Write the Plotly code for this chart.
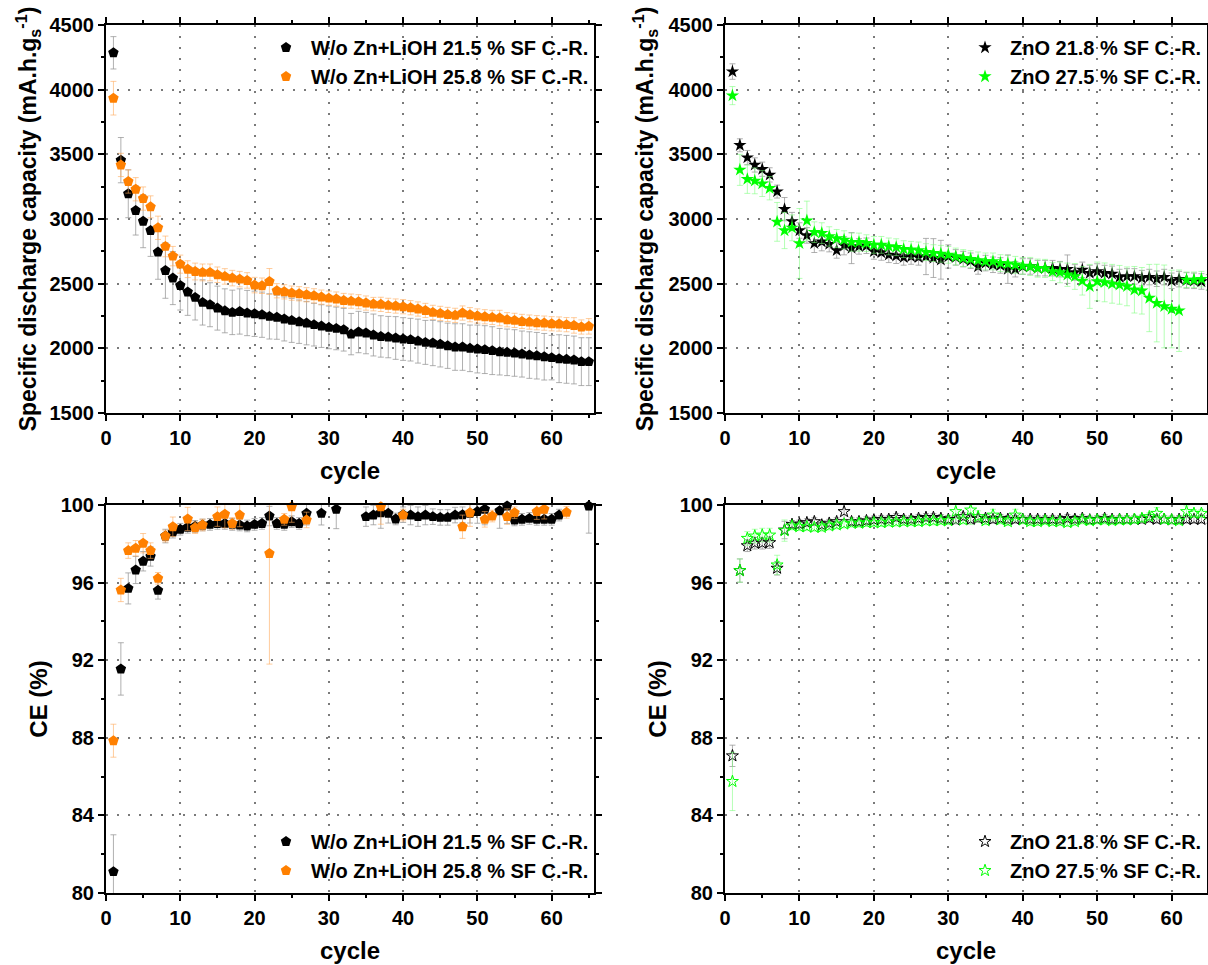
import plotly.graph_objects as go

# ---------------- data ----------------
cycles = list(range(1, 66))

# top-left: specific discharge capacity, W/o Zn+LiOH
cap_wo_215 = [4285, 3455, 3195, 3066, 2983, 2911, 2744, 2602, 2543, 2486,
              2435, 2394, 2355, 2337, 2311, 2290, 2278, 2285, 2273, 2267,
              2260, 2247, 2240, 2227, 2216, 2206, 2195, 2183, 2172, 2162,
              2154, 2144, 2110, 2126, 2118, 2103, 2092, 2087, 2080, 2072,
              2067, 2056, 2046, 2041, 2031, 2020, 2010, 2010, 2000, 1995,
              1990, 1982, 1974, 1969, 1964, 1956, 1948, 1943, 1935, 1928,
              1920, 1915, 1910, 1897, 1897]
cap_wo_215_err = [125, 175, 185, 190, 205, 200, 210, 215, 205, 190,
                  180, 175, 175, 170, 170, 170, 172, 175, 175, 175,
                  175, 175, 170, 170, 170, 168, 168, 165, 165, 165,
                  165, 165, 160, 160, 160, 162, 160, 160, 165, 165,
                  165, 170, 170, 175, 175, 175, 180, 180, 180, 185,
                  185, 185, 180, 180, 180, 178, 180, 180, 180, 172,
                  185, 185, 185, 185, 185]
cap_wo_258 = [3934, 3418, 3290, 3230, 3158, 3094, 2932, 2788, 2713, 2651,
              2612, 2594, 2587, 2587, 2569, 2556, 2543, 2535, 2525, 2489,
              2484, 2517, 2445, 2437, 2427, 2422, 2414, 2406, 2396, 2388,
              2381, 2370, 2365, 2360, 2350, 2342, 2340, 2332, 2327, 2322,
              2314, 2304, 2293, 2278, 2270, 2262, 2255, 2273, 2260, 2250,
              2244, 2239, 2234, 2221, 2216, 2208, 2203, 2198, 2195, 2190,
              2188, 2183, 2177, 2165, 2170]
cap_wo_258_err = [130, 90, 90, 90, 90, 85, 90, 80, 75, 70,
                  65, 65, 65, 65, 60, 60, 60, 60, 60, 60,
                  60, 100, 55, 55, 55, 55, 55, 55, 55, 55,
                  55, 55, 55, 55, 55, 52, 55, 55, 55, 55,
                  55, 55, 55, 55, 55, 55, 55, 55, 55, 55,
                  55, 55, 60, 55, 55, 55, 55, 55, 55, 55,
                  55, 55, 60, 55, 60]

# top-right: specific discharge capacity, ZnO
cap_zno_218 = [4140, 3570, 3475, 3418, 3385, 3341, 3212, 3076, 2981, 2911,
               2873, 2811, 2824, 2806, 2757, 2793, 2775, 2788, 2793, 2749,
               2741, 2723, 2716, 2703, 2710, 2703, 2710, 2698, 2685, 2710,
               2703, 2690, 2677, 2633, 2659, 2646, 2641, 2612, 2612, 2633,
               2633, 2620, 2620, 2620, 2612, 2612, 2587, 2607, 2582, 2594,
               2582, 2576, 2551, 2556, 2556, 2543, 2551, 2538, 2551, 2522,
               2535, 2525, 2522, 2517, 2510]
cap_zno_218_err = [60, 50, 55, 55, 55, 55, 50, 90, 70, 60,
                   60, 70, 70, 60, 60, 70, 120, 60, 60, 60,
                   60, 60, 60, 60, 60, 60, 140, 150, 150, 90,
                   60, 60, 60, 60, 60, 60, 60, 110, 60, 60,
                   60, 60, 60, 60, 60, 110, 60, 60, 60, 60,
                   60, 60, 60, 60, 60, 60, 60, 60, 60, 60,
                   60, 60, 60, 60, 60]
cap_zno_275 = [3954, 3380, 3308, 3295, 3274, 3238, 2978, 2911, 2932, 2811,
               2988, 2898, 2891, 2865, 2849, 2839, 2821, 2821, 2813, 2800,
               2800, 2788, 2782, 2767, 2762, 2757, 2744, 2736, 2731, 2723,
               2710, 2698, 2690, 2680, 2672, 2672, 2659, 2654, 2646, 2638,
               2633, 2620, 2618, 2594, 2587, 2569, 2556, 2522, 2479, 2517,
               2510, 2499, 2491, 2479, 2453, 2445, 2389, 2350, 2324, 2304,
               2291, 2530, 2530, 2535, 2510]
cap_zno_275_err = [70, 120, 110, 100, 100, 90, 150, 140, 100, 270,
                   150, 80, 80, 75, 70, 70, 70, 70, 65, 65,
                   65, 65, 65, 65, 65, 65, 65, 65, 65, 65,
                   65, 65, 65, 65, 65, 65, 65, 65, 65, 65,
                   70, 70, 70, 70, 80, 90, 100, 110, 170, 150,
                   150, 150, 150, 150, 180, 180, 260, 300, 320, 300,
                   315, 60, 60, 60, 60]

# bottom-left: CE, W/o Zn+LiOH
ce_wo_215 = [81.1, 91.55, 95.7, 96.65, 97.1, 97.35, 95.6, 98.4, 98.6, 98.75,
             98.85, 98.9, 98.97, 99.0, 99.05, 99.05, 99.0, 98.97, 98.92, 99.0,
             99.05, 99.43, 99.05, 99.0, 99.14, 99.05, 99.57, None, 99.57, None,
             99.78, None, None, None, 99.4, 99.48, 99.6, 99.57, 99.28, 99.5,
             99.48, 99.4, 99.48, 99.4, 99.36, 99.36, 99.48, 99.5, 99.57, 99.66,
             99.78, None, 99.7, 99.95, 99.23, 99.26, 99.31, 99.26, 99.26, 99.26,
             99.48, None, None, None, 99.95]
ce_wo_215_err = [1.9, 1.35, 0.8, 0.7, 0.5, 0.5, 0.45, 0.35, 0.3, 0.3,
                 0.3, 0.3, 0.3, 0.3, 0.3, 0.3, 0.3, 0.3, 0.3, 0.3,
                 0.3, 0.5, 0.3, 0.3, 0.3, 0.3, 0.6, None, 0.6, None,
                 1.0, None, None, None, 0.5, 0.5, 0.8, 0.5, 0.3, 0.4,
                 0.5, 0.5, 0.5, 0.4, 0.4, 0.4, 0.4, 0.4, 0.5, 0.6,
                 0.8, None, 0.9, 0.9, 0.3, 0.3, 0.3, 0.3, 0.3, 0.3,
                 0.3, None, None, None, 1.4]
ce_wo_258 = [87.85, 95.62, 97.65, 97.77, 98.03, 97.65, 96.22, 98.4, 98.88, None,
             99.28, 98.83, 98.97, None, 99.4, 99.52, 99.05, 99.48, None, None,
             None, 97.5, None, 99.26, 99.91, None, 99.23, None, None, None,
             None, None, None, None, None, None, 99.91, None, None, 99.48,
             None, None, None, None, None, None, None, 98.88, 99.6, None,
             99.26, 99.43, None, 99.4, 99.6, None, None, 99.66, 99.78, None,
             None, 99.62, None, None, None]
ce_wo_258_err = [0.85, 0.6, 0.4, 0.4, 0.5, 0.4, 0.3, 0.3, 0.5, None,
                 0.6, 0.3, 0.3, None, 0.5, 0.7, 0.3, 0.6, None, None,
                 None, 5.7, None, 0.3, 0.8, None, 0.4, None, None, None,
                 None, None, None, None, None, None, 0.9, None, None, 0.3,
                 None, None, None, None, None, None, None, 0.6, 0.7, None,
                 0.4, 0.3, None, 0.4, 0.3, None, None, 0.4, 0.5, None,
                 None, 0.3, None, None, None]

# bottom-right: CE, ZnO
ce_zno_218 = [87.07, 96.62, 97.9, 98.03, 98.03, 98.06, 96.74, 98.71, 99.0, 99.02,
              99.09, 99.14, 98.97, 99.06, 99.14, 99.66, 99.14, 99.14, 99.19, 99.23,
              99.26, 99.26, 99.36, 99.26, 99.26, 99.31, 99.36, 99.36, 99.31, 99.26,
              99.23, 99.4, 99.26, 99.31, 99.31, 99.26, 99.31, 99.26, 99.26, 99.26,
              99.26, 99.26, 99.26, 99.26, 99.26, 99.31, 99.26, 99.31, 99.23, 99.26,
              99.31, 99.26, 99.26, 99.26, 99.26, 99.26, 99.31, 99.26, 99.26, 99.23,
              99.26, 99.26, 99.26, 99.26, 99.26]
ce_zno_218_err = [0.55, 0.6, 0.3, 0.3, 0.3, 0.3, 0.35, 0.45, 0.2, 0.2,
                  0.2, 0.2, 0.2, 0.2, 0.2, 0.4, 0.2, 0.2, 0.2, 0.2,
                  0.2, 0.2, 0.2, 0.2, 0.2, 0.2, 0.2, 0.2, 0.2, 0.2,
                  0.2, 0.2, 0.2, 0.2, 0.2, 0.2, 0.2, 0.2, 0.2, 0.2,
                  0.2, 0.2, 0.2, 0.2, 0.2, 0.2, 0.2, 0.2, 0.2, 0.2,
                  0.2, 0.2, 0.2, 0.2, 0.2, 0.2, 0.2, 0.2, 0.2, 0.2,
                  0.2, 0.2, 0.2, 0.2, 0.2]
ce_zno_275 = [85.75, 96.62, 98.28, 98.4, 98.45, 98.45, 96.91, 98.68, 98.92, 98.88,
              98.88, 98.85, 98.85, 98.92, 98.97, 99.02, 99.06, 99.06, 99.09, 99.09,
              99.09, 99.12, 99.12, 99.14, 99.14, 99.14, 99.18, 99.18, 99.19, 99.19,
              99.66, 99.23, 99.74, 99.4, 99.19, 99.48, 99.23, 99.14, 99.48, 99.23,
              99.14, 99.14, 99.19, 99.14, 99.14, 99.09, 99.14, 99.23, 99.19, 99.23,
              99.23, 99.19, 99.23, 99.23, 99.26, 99.31, 99.4, 99.57, 99.26, 99.23,
              99.19, 99.66, 99.57, 99.57, 99.43]
ce_zno_275_err = [1.5, 0.6, 0.35, 0.35, 0.35, 0.35, 0.5, 0.55, 0.2, 0.2,
                  0.2, 0.2, 0.2, 0.2, 0.2, 0.2, 0.2, 0.2, 0.2, 0.2,
                  0.2, 0.2, 0.2, 0.2, 0.2, 0.2, 0.2, 0.2, 0.2, 0.2,
                  0.6, 0.2, 0.75, 0.3, 0.2, 0.3, 0.2, 0.2, 0.3, 0.2,
                  0.2, 0.2, 0.2, 0.2, 0.2, 0.2, 0.2, 0.2, 0.2, 0.2,
                  0.2, 0.2, 0.2, 0.2, 0.2, 0.2, 0.2, 0.3, 0.2, 0.2,
                  0.2, 0.3, 0.2, 0.2, 0.2]

names_wo = ["W/o Zn+LiOH 21.5 % SF C.-R.", "W/o Zn+LiOH 25.8 % SF C.-R."]
names_zno = ["ZnO 21.8 % SF C.-R.", "ZnO 27.5 % SF C.-R."]

# ---------------- styles ----------------
W, H = 1208, 965
FONT = "Liberation Sans, Arial, sans-serif"
BLACK = "#000000"
ORANGE = "#FF8000"
GREEN = "#00FF00"
ERR_BLACK = "rgba(150,150,150,0.75)"
ERR_ORANGE = "rgba(255,170,90,0.6)"
ERR_GREEN = "rgba(120,255,120,0.55)"


def fnt(size):
    return dict(family=FONT, size=size, color="black", weight="bold")


fig = go.Figure()


def add(y, err, name, color, ecolor, symbol, size, xa, ya, legend, lw=0):
    fig.add_trace(go.Scatter(
        x=cycles, y=y, name=name, mode="markers",
        marker=dict(symbol=symbol, size=size, color=color,
                    line=dict(color=color, width=lw)),
        error_y=dict(type="data", array=err, visible=True, color=ecolor,
                     thickness=1, width=3),
        xaxis=xa, yaxis=ya, legend=legend, cliponaxis=False))


add(cap_wo_215, cap_wo_215_err, names_wo[0], BLACK, ERR_BLACK, "pentagon", 11, "x", "y", "legend")
add(cap_wo_258, cap_wo_258_err, names_wo[1], ORANGE, ERR_ORANGE, "pentagon", 11, "x", "y", "legend")
add(cap_zno_218, cap_zno_218_err, names_zno[0], BLACK, ERR_BLACK, "star", 10, "x2", "y2", "legend2")
add(cap_zno_275, cap_zno_275_err, names_zno[1], GREEN, ERR_GREEN, "star", 10, "x2", "y2", "legend2")
add(ce_wo_215, ce_wo_215_err, names_wo[0], BLACK, ERR_BLACK, "pentagon", 11, "x3", "y3", "legend3")
add(ce_wo_258, ce_wo_258_err, names_wo[1], ORANGE, ERR_ORANGE, "pentagon", 11, "x3", "y3", "legend3")
add(ce_zno_218, ce_zno_218_err, names_zno[0], BLACK, ERR_BLACK, "star-open", 9, "x4", "y4", "legend4", lw=1)
add(ce_zno_275, ce_zno_275_err, names_zno[1], GREEN, ERR_GREEN, "star-open", 9, "x4", "y4", "legend4", lw=1)


def xdom(a, b):
    return [a / W, b / W]


def ydom(top, bottom):
    return [1 - bottom / H, 1 - top / H]


common = dict(showline=True, linewidth=2, linecolor="black", mirror="ticks",
              ticks="outside", ticklen=6, tickwidth=2, tickcolor="black",
              showgrid=True, gridcolor="#7a7a7a", gridwidth=1.5, griddash="2px,9px",
              zeroline=False, tickfont=fnt(20), automargin=False)


def minor(d):
    return dict(dtick=d, ticks="outside", ticklen=3, tickwidth=2, tickcolor="black", showgrid=False)


xt = dict(text="cycle", font=fnt(24), standoff=14)
cap_title = "Specific discharge capacity (mA.h.g<sub>s</sub><sup>-1</sup>)"

leg = dict(bgcolor="rgba(0,0,0,0)", font=fnt(20), tracegroupgap=0, itemwidth=40)

fig.update_layout(
    width=W, height=H, margin=dict(l=0, r=0, t=0, b=0, autoexpand=False),
    paper_bgcolor="white", plot_bgcolor="white",
    font=fnt(20),
    showlegend=True,
    xaxis=dict(common, domain=xdom(106, 594), range=[0, 65.7], dtick=10, anchor="y",
               minor=minor(5), title=xt),
    yaxis=dict(common, domain=ydom(25, 413), range=[1500, 4500], dtick=500, anchor="x",
               minor=minor(250), title=dict(text=cap_title, font=fnt(23), standoff=6)),
    xaxis2=dict(common, domain=xdom(725, 1207), range=[0, 64.75], dtick=10, anchor="y2",
                minor=minor(5), title=xt),
    yaxis2=dict(common, domain=ydom(25, 413), range=[1500, 4500], dtick=500, anchor="x2",
                minor=minor(250), title=dict(text=cap_title, font=fnt(23), standoff=8)),
    xaxis3=dict(common, domain=xdom(106, 594), range=[0, 65.7], dtick=10, anchor="y3",
                minor=minor(5), title=xt),
    yaxis3=dict(common, domain=ydom(505, 893), range=[80, 100], dtick=4, anchor="x3",
                minor=minor(2), title=dict(text="CE (%)", font=fnt(24), standoff=6)),
    xaxis4=dict(common, domain=xdom(725, 1207), range=[0, 64.75], dtick=10, anchor="y4",
                minor=minor(5), title=xt),
    yaxis4=dict(common, domain=ydom(505, 893), range=[80, 100], dtick=4, anchor="x4",
                minor=minor(2), title=dict(text="CE (%)", font=fnt(24), standoff=6)),
    legend=dict(leg, x=594 / W, y=1 - 28 / H, xanchor="right", yanchor="top"),
    legend2=dict(leg, x=1207 / W, y=1 - 28 / H, xanchor="right", yanchor="top"),
    legend3=dict(leg, x=594 / W, y=1 - 890 / H, xanchor="right", yanchor="bottom"),
    legend4=dict(leg, x=1207 / W, y=1 - 890 / H, xanchor="right", yanchor="bottom"),
)

fig.write_html("out.html", config={"displayModeBar": False},
               post_script="document.body.style.margin='0';")
